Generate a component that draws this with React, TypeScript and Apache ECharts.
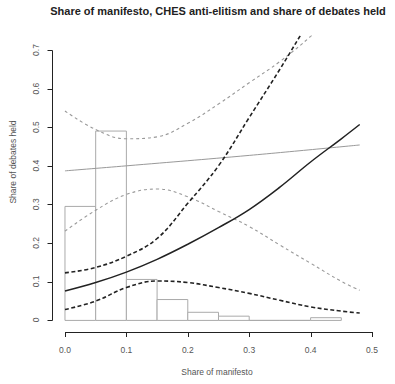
import React, { useEffect, useRef } from "react";
import * as echarts from "echarts";

const titleText = "Share of manifesto, CHES anti-elitism and share of debates held";
const xTitle = "Share of manifesto";
const yTitle = "Share of debates held";

const xTicks = [0, 0.1, 0.2, 0.3, 0.4, 0.5];
const yTicks = [0, 0.1, 0.2, 0.3, 0.4, 0.5, 0.6, 0.7];

// histogram of share of manifesto (bin starts, width 0.05)
const binStarts = [0, 0.05, 0.1, 0.15, 0.2, 0.25, 0.3, 0.35, 0.4];
const binHeights = [0.295, 0.49, 0.106, 0.054, 0.021, 0.011, 0, 0, 0.007];
const binWidth = 0.05;

const xGrid = [0, 0.05, 0.1, 0.15, 0.2, 0.25, 0.3, 0.35, 0.4, 0.45, 0.48];
const blackFit = [0.076, 0.098, 0.125, 0.158, 0.197, 0.24, 0.287, 0.345, 0.41, 0.47, 0.507];
const blackUpper = [0.123, 0.137, 0.166, 0.212, 0.303, 0.4, 0.525, 0.65, 0.78, 0.9, 0.97];
const blackLower = [0.028, 0.05, 0.085, 0.102, 0.098, 0.085, 0.07, 0.052, 0.035, 0.024, 0.019];
const grayUpper = [0.542, 0.494, 0.47, 0.475, 0.51, 0.56, 0.615, 0.67, 0.735, 0.81, 0.85];
const grayLower = [0.231, 0.285, 0.326, 0.34, 0.32, 0.282, 0.243, 0.195, 0.148, 0.101, 0.078];

const grayFitX = [0, 0.1, 0.3, 0.48];
const grayFit = [0.387, 0.4, 0.427, 0.454];

// plot-region limits (R's usr)
const X_MIN = -0.0195;
const X_MAX = 0.5;
const Y_MIN = -0.03;
const Y_MAX = 0.736;

const FONT = "Liberation Sans, Arial, sans-serif";

function pairs(xs: number[], ys: number[]) {
  return xs.map((x, i) => [x, ys[i]]);
}

const crisp = (v: number) => Math.round(v) + 0.5;

export default function App() {
  const ref = useRef<HTMLDivElement>(null);
  useEffect(() => {
    document.body.style.margin = "0";
    const chart = echarts.init(ref.current!, null, { renderer: "svg" });
    const lineBase = {
      type: "line" as const,
      xAxisIndex: 0,
      yAxisIndex: 0,
      showSymbol: false,
      symbol: "none",
      smooth: 0.4,
      silent: true,
    };
    const axStroke = { stroke: "#222222", lineWidth: 1 };
    chart.setOption({
      animation: false,
      backgroundColor: "#ffffff",
      grid: [
        { left: 53, top: 36, width: 319, height: 296 },
        { left: 65, width: 307, top: 322, height: 10 },
        { left: 53, width: 10, top: 50, height: 270 },
      ],
      xAxis: [
        { type: "value", gridIndex: 0, min: X_MIN, max: X_MAX, show: false },
        {
          type: "value",
          gridIndex: 1,
          min: xTicks[0],
          max: xTicks[xTicks.length - 1],
          interval: 0.1,
          position: "bottom",
          axisLine: { show: false },
          axisTick: { show: false },
          splitLine: { show: false },
          axisLabel: {
            margin: 13,
            fontSize: 8.5,
            color: "#555",
            fontFamily: FONT,
            formatter: (v: number) => v.toFixed(1),
          },
        },
        { type: "value", gridIndex: 2, min: 0, max: 1, show: false },
      ],
      yAxis: [
        { type: "value", gridIndex: 0, min: Y_MIN, max: Y_MAX, show: false },
        { type: "value", gridIndex: 1, min: 0, max: 1, show: false },
        {
          type: "value",
          gridIndex: 2,
          min: yTicks[0],
          max: yTicks[yTicks.length - 1],
          interval: 0.1,
          position: "left",
          axisLine: { show: false },
          axisTick: { show: false },
          splitLine: { show: false },
          axisLabel: {
            rotate: 90,
            margin: 13,
            fontSize: 8.5,
            color: "#555",
            fontFamily: FONT,
            formatter: (v: number) => (Math.abs(v) < 1e-9 ? "0" : v.toFixed(1)),
          },
        },
      ],
      graphic: [
        {
          type: "text",
          x: 218,
          y: 11,
          style: {
            text: titleText,
            fontSize: 11,
            fontWeight: "bold",
            fontFamily: FONT,
            fill: "#222",
            textAlign: "center",
            textVerticalAlign: "middle",
          },
        },
        {
          type: "text",
          x: 217,
          y: 372,
          style: {
            text: xTitle,
            fontSize: 8.5,
            fontFamily: FONT,
            fill: "#555",
            textAlign: "center",
            textVerticalAlign: "middle",
          },
        },
        {
          type: "text",
          x: 13,
          y: 162,
          rotation: Math.PI / 2,
          style: {
            text: yTitle,
            fontSize: 8.5,
            fontFamily: FONT,
            fill: "#555",
            textAlign: "center",
            textVerticalAlign: "middle",
          },
        },
      ],
      series: [
        {
          type: "custom",
          xAxisIndex: 0,
          yAxisIndex: 0,
          silent: true,
          data: binStarts.map((s, i) => [s, binHeights[i]]),
          renderItem: (params: any, api: any) => {
            const x0 = api.value(0);
            const h = api.value(1);
            const p0 = api.coord([x0, h]);
            const p1 = api.coord([x0 + binWidth, 0]);
            return {
              type: "rect",
              shape: { x: p0[0], y: p0[1], width: p1[0] - p0[0], height: p1[1] - p0[1] },
              style: { fill: "#ffffff", stroke: "#aaaaaa", lineWidth: 1 },
            };
          },
        },
        {
          ...lineBase,
          data: pairs(grayFitX, grayFit),
          lineStyle: { color: "#999999", width: 1, type: "solid" },
        },
        {
          ...lineBase,
          data: pairs(xGrid, grayUpper),
          lineStyle: { color: "#999999", width: 1.1, type: [3, 3] },
        },
        {
          ...lineBase,
          data: pairs(xGrid, grayLower),
          lineStyle: { color: "#999999", width: 1.1, type: [3, 3] },
        },
        {
          ...lineBase,
          data: pairs(xGrid, blackFit),
          lineStyle: { color: "#222222", width: 1.5, type: "solid" },
        },
        {
          ...lineBase,
          data: pairs(xGrid, blackUpper),
          lineStyle: { color: "#222222", width: 1.6, type: [4, 2.5] },
        },
        {
          ...lineBase,
          data: pairs(xGrid, blackLower),
          lineStyle: { color: "#222222", width: 1.6, type: [4, 2.5] },
        },
        // R-style axes: lines span first to last tick, ticks outward
        {
          type: "custom",
          xAxisIndex: 0,
          yAxisIndex: 0,
          silent: true,
          clip: false,
          z: 10,
          data: xTicks.map((v) => [v, Y_MIN]),
          renderItem: (params: any, api: any) => {
            const p = api.coord([api.value(0), api.value(1)]);
            const x = crisp(p[0]);
            const y = Math.round(p[1]);
            const children: any[] = [
              { type: "line", shape: { x1: x, y1: y, x2: x, y2: y + 5 }, style: axStroke },
            ];
            if (params.dataIndex === 0) {
              const q = api.coord([xTicks[xTicks.length - 1], Y_MIN]);
              children.push({
                type: "line",
                shape: { x1: x, y1: y + 0.5, x2: crisp(q[0]), y2: y + 0.5 },
                style: axStroke,
              });
              // y axis: line and ticks at the left edge of the plot region
              const a = api.coord([X_MIN, yTicks[0]]);
              const b = api.coord([X_MIN, yTicks[yTicks.length - 1]]);
              const ax = Math.round(a[0]) - 0.5;
              children.push({
                type: "line",
                shape: { x1: ax, y1: crisp(a[1]), x2: ax, y2: crisp(b[1]) },
                style: axStroke,
              });
              yTicks.forEach((t) => {
                const c = api.coord([X_MIN, t]);
                children.push({
                  type: "line",
                  shape: { x1: ax - 5, y1: crisp(c[1]), x2: ax, y2: crisp(c[1]) },
                  style: axStroke,
                });
              });
            }
            return { type: "group", children };
          },
        },
      ],
    });
    return () => chart.dispose();
  }, []);
  return <div ref={ref} style={{ width: 395, height: 384 }} />;
}
